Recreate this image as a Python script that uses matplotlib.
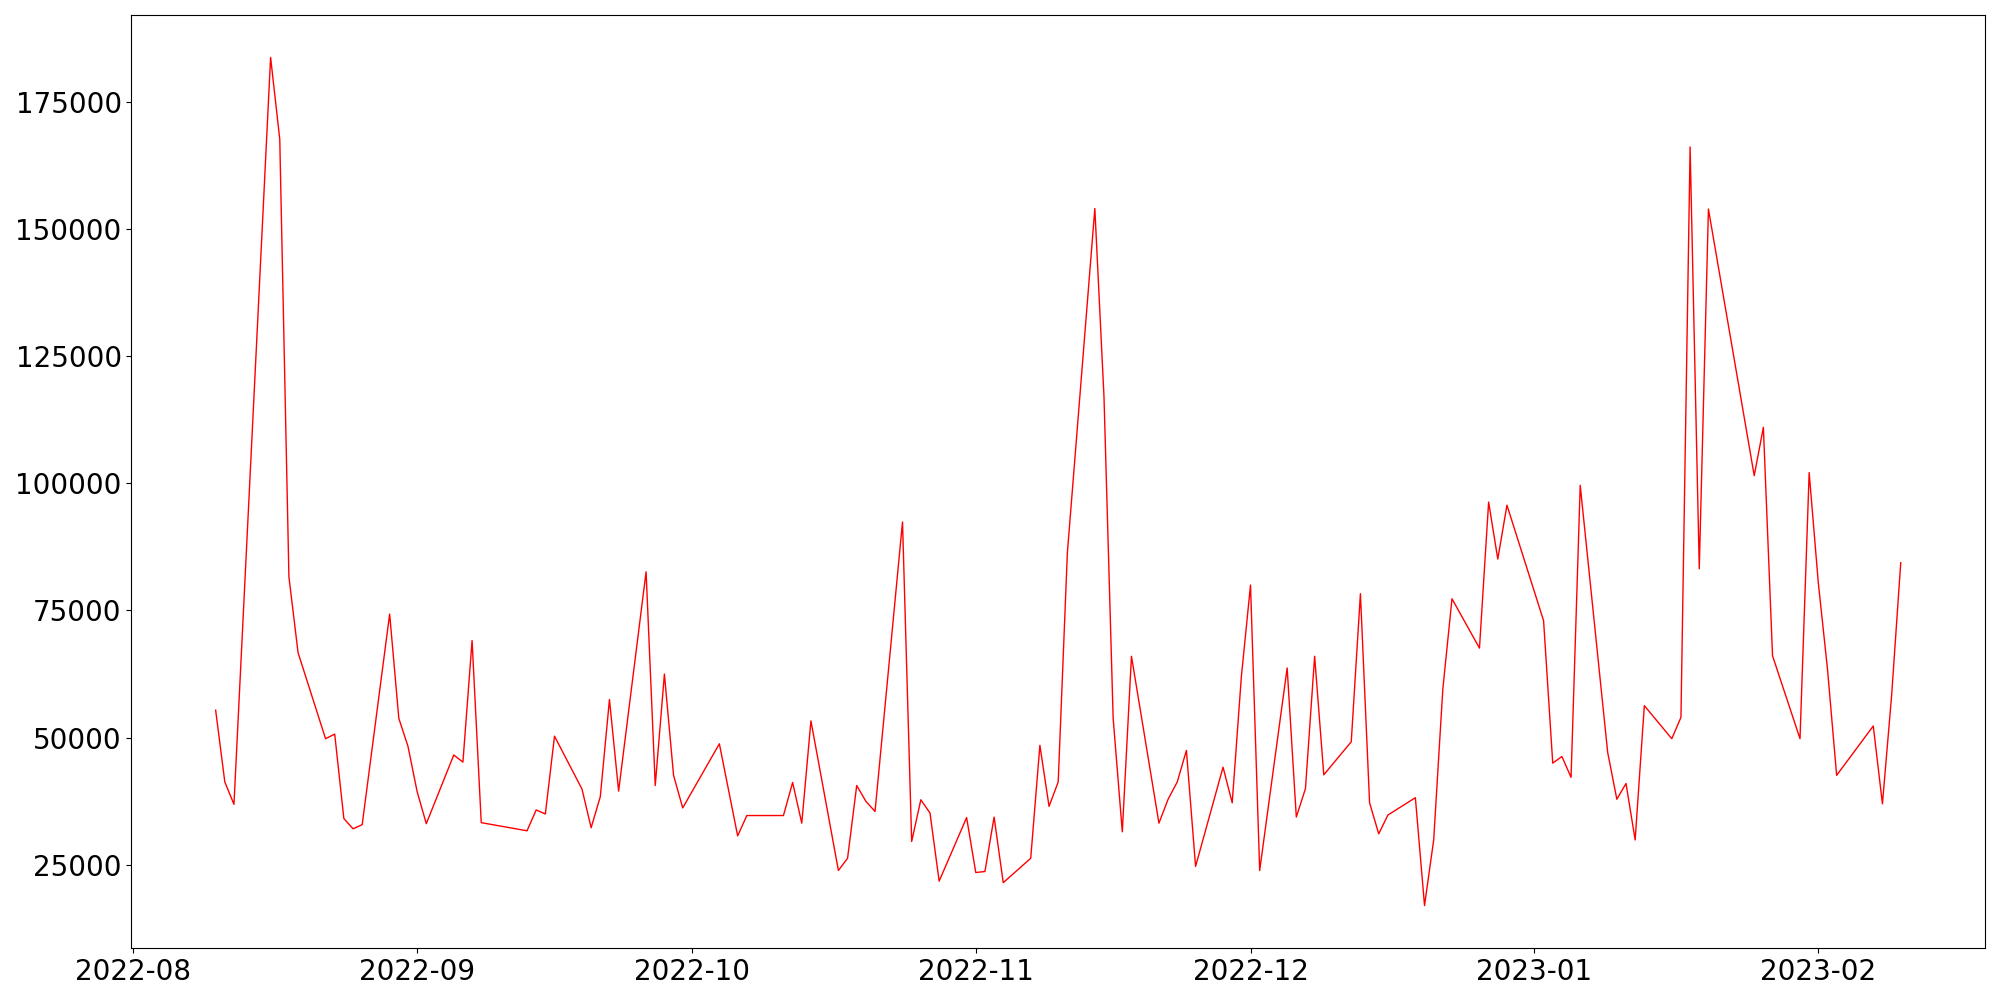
import matplotlib
matplotlib.use("Agg")
import matplotlib.pyplot as plt
import matplotlib.dates as mdates
from matplotlib.ticker import MultipleLocator
import pandas as pd

dates = [
    "2022-08-10", "2022-08-11", "2022-08-12", "2022-08-16", "2022-08-17", "2022-08-18", "2022-08-19",
    "2022-08-22", "2022-08-23", "2022-08-24", "2022-08-25", "2022-08-26",
    "2022-08-29", "2022-08-30", "2022-08-31", "2022-09-01", "2022-09-02",
    "2022-09-05", "2022-09-06", "2022-09-07", "2022-09-08",
    "2022-09-13", "2022-09-14", "2022-09-15", "2022-09-16",
    "2022-09-19", "2022-09-20", "2022-09-21", "2022-09-22", "2022-09-23",
    "2022-09-26", "2022-09-27", "2022-09-28", "2022-09-29", "2022-09-30",
    "2022-10-04", "2022-10-06", "2022-10-07",
    "2022-10-11", "2022-10-12", "2022-10-13", "2022-10-14",
    "2022-10-17", "2022-10-18", "2022-10-19", "2022-10-20", "2022-10-21",
    "2022-10-24", "2022-10-25", "2022-10-26", "2022-10-27", "2022-10-28",
    "2022-10-31", "2022-11-01", "2022-11-02", "2022-11-03", "2022-11-04",
    "2022-11-07", "2022-11-08", "2022-11-09", "2022-11-10", "2022-11-11",
    "2022-11-14", "2022-11-15", "2022-11-16", "2022-11-17", "2022-11-18",
    "2022-11-21", "2022-11-22", "2022-11-23", "2022-11-24", "2022-11-25",
    "2022-11-28", "2022-11-29", "2022-11-30", "2022-12-01", "2022-12-02",
    "2022-12-05", "2022-12-06", "2022-12-07", "2022-12-08", "2022-12-09",
    "2022-12-12", "2022-12-13", "2022-12-14", "2022-12-15", "2022-12-16",
    "2022-12-19", "2022-12-20", "2022-12-21", "2022-12-22", "2022-12-23",
    "2022-12-26", "2022-12-27", "2022-12-28", "2022-12-29",
    "2023-01-02", "2023-01-03", "2023-01-04", "2023-01-05", "2023-01-06",
    "2023-01-09", "2023-01-10", "2023-01-11", "2023-01-12", "2023-01-13",
    "2023-01-16", "2023-01-17", "2023-01-18", "2023-01-19", "2023-01-20",
    "2023-01-25", "2023-01-26", "2023-01-27",
    "2023-01-30", "2023-01-31", "2023-02-01", "2023-02-02", "2023-02-03",
    "2023-02-07", "2023-02-08", "2023-02-09", "2023-02-10",
]

values = [
    55400, 41300, 36900, 183700, 167600, 81600, 66700,
    49800, 50700, 34100, 32100, 32900,
    74300, 53800, 48300, 39400, 33100,
    46600, 45200, 69100, 33300,
    31700, 35800, 35000, 50300,
    39900, 32300, 38400, 57500, 39500,
    82600, 40600, 62500, 42600, 36200,
    48800, 30700, 34700,
    34700, 41200, 33200, 53300,
    23900, 26300, 40600, 37500, 35500,
    92400, 29600, 37800, 35200, 21800,
    34300, 23500, 23700, 34400, 21500,
    26300, 48500, 36500, 41300, 86300,
    154000, 117000, 53800, 31500, 66000,
    33200, 37900, 41300, 47500, 24700,
    44200, 37200, 62000, 80000, 23900,
    63700, 34400, 40000, 66000, 42700,
    49200, 78300, 37200, 31100, 34800,
    38200, 17000, 29900, 59600, 77300,
    67600, 96300, 85100, 95700,
    73000, 45000, 46300, 42200, 99600,
    47100, 37900, 41000, 29900, 56300,
    49800, 54000, 166100, 83200, 153900,
    101500, 111000, 66100,
    49800, 102100, 80400, 63500, 42600,
    52300, 37000, 58200, 84400,
]

x = pd.to_datetime(dates)

fig = plt.figure(figsize=(20, 10), dpi=100)
ax = fig.add_axes([0.0657, 0.052, 0.9268, 0.933])
ax.plot(x, values, color="red", linewidth=1.0)

ax.xaxis.set_major_locator(mdates.MonthLocator())
ax.xaxis.set_major_formatter(mdates.DateFormatter("%Y-%m"))
ax.yaxis.set_major_locator(MultipleLocator(25000))
ax.tick_params(axis="both", labelsize=20)

fig.savefig("out.png", dpi=100)
